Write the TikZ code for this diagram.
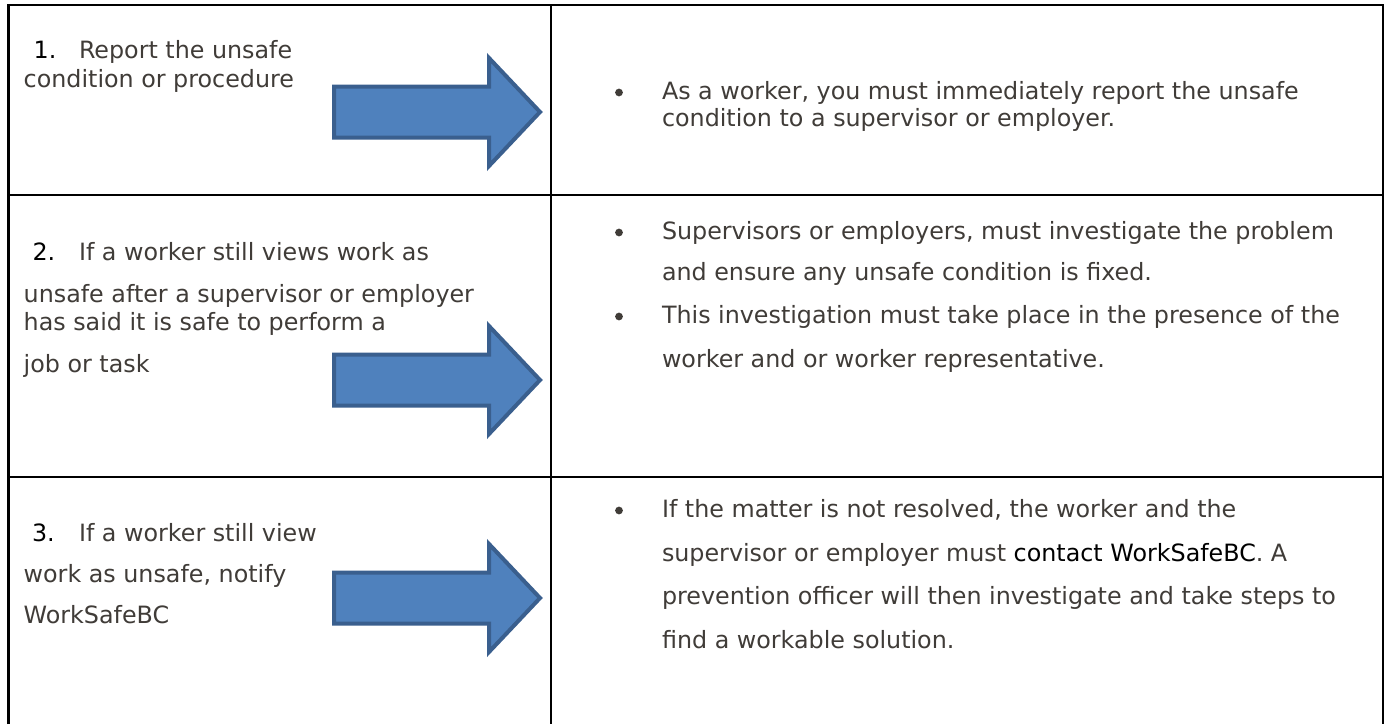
\documentclass[tikz,border=0pt]{standalone}
\usepackage{fontspec}
\setmainfont{DejaVu Sans}
\definecolor{txt}{RGB}{64,60,56}
\definecolor{arrowfill}{HTML}{4F81BD}
\definecolor{arrowline}{HTML}{3A5F8E}

\begin{document}
\begin{tikzpicture}[x=0.75pt,y=-0.75pt,
  rule/.style={line width=2pt, draw=black},
  txtline/.style={anchor=base west, inner sep=0pt, outer sep=0pt, text=txt,
    font=\fontsize{17.85pt}{21pt}\selectfont},
  numlabel/.style={txtline, text=black},
  bulletdot/.style={circle, fill=txt, minimum size=5.8pt, inner sep=0pt},
  steparrow/.style={fill=arrowfill, draw=arrowline, line width=3pt, line join=miter}]

\useasboundingbox (0,0) rectangle (1387,724);
\fill[white] (0,0) rectangle (1387,724);

% table rules (open at the bottom)
\draw[rule] (8.5,724) -- (8.5,5) -- (1383,5) -- (1383,724);
\draw[rule] (551,5) -- (551,724);
\draw[rule] (8.5,195) -- (1383,195);
\draw[rule] (8.5,477) -- (1383,477);

% block arrows, one per row (tip heights)
\foreach \ty in {112,380,598}
  \draw[steparrow] (334,{\ty-25.5}) -- (489,{\ty-25.5}) -- (489,{\ty-54})
    -- (540,\ty) -- (489,{\ty+54}) -- (489,{\ty+25.5}) -- (334,{\ty+25.5}) -- cycle;

% left column: steps
\node[numlabel] (n1) at (33.7,59) {1.};
\node[txtline] (s1a) at (79,59) {Report the unsafe};
\node[txtline] (s1b) at (23.7,87) {condition or procedure};

\node[numlabel] (n2) at (32.5,260) {2.};
\node[txtline] (s2a) at (79,260) {If a worker still views work as};
\node[txtline] (s2b) at (23.7,302) {unsafe after a supervisor or employer};
\node[txtline] (s2c) at (23.7,330) {has said it is safe to perform a};
\node[txtline] (s2d) at (23.7,372) {job or task};

\node[numlabel] (n3) at (32,541) {3.};
\node[txtline] (s3a) at (79,541) {If a worker still view};
\node[txtline] (s3b) at (23.7,582) {work as unsafe, notify};
\node[txtline] (s3c) at (23.7,623) {WorkSafeBC};

% right column: explanations
\node[bulletdot] (b1) at (619,92.5) {};
\node[txtline] (r1a) at (662,99) {As a worker, you must immediately report the unsafe};
\node[txtline] (r1b) at (662,126) {condition to a supervisor or employer.};

\node[bulletdot] (b2) at (619,232.5) {};
\node[txtline] (r2a) at (662,239) {Supervisors or employers, must investigate the problem};
\node[txtline] (r2b) at (662,280) {and ensure any unsafe condition is fixed.};
\node[bulletdot] (b3) at (619,316.5) {};
\node[txtline] (r2c) at (662,323) {This investigation must take place in the presence of the};
\node[txtline] (r2d) at (662,367) {worker and or worker representative.};

\node[bulletdot] (b4) at (619,510.5) {};
\node[txtline] (r3a) at (662,517) {If the matter is not resolved, the worker and the};
\node[txtline] (r3b) at (662,561) {supervisor or employer must \textcolor{black}{contact WorkSafeBC}. A};
\node[txtline] (r3c) at (662,604) {prevention officer will then investigate and take steps to};
\node[txtline] (r3d) at (662,648) {find a workable solution.};
\end{tikzpicture}
\end{document}
